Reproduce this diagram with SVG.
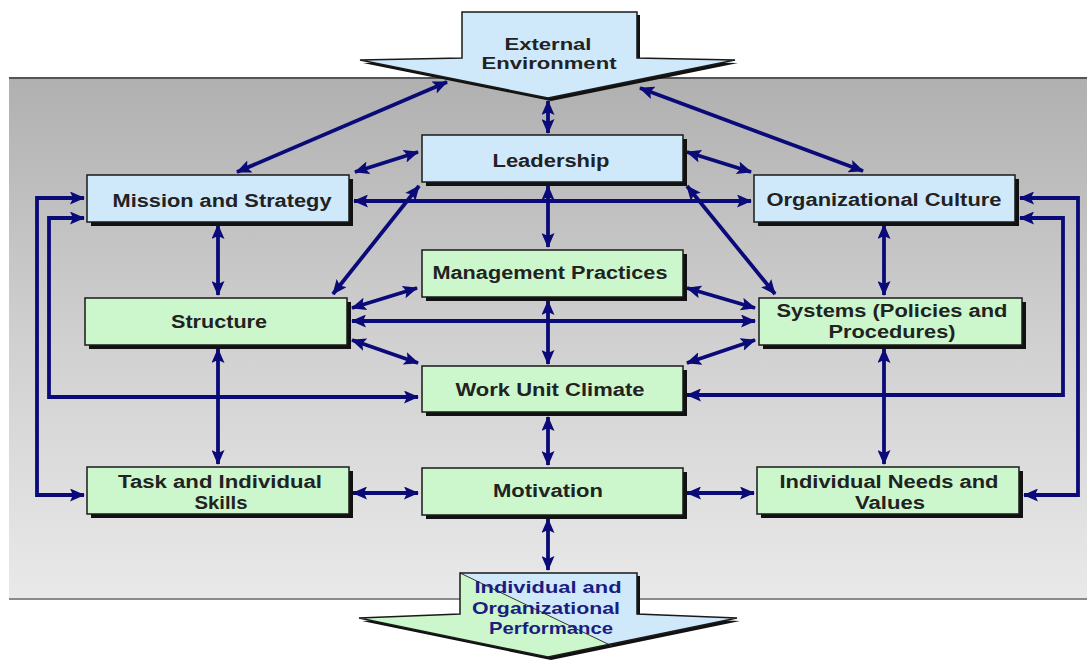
<svg xmlns="http://www.w3.org/2000/svg" width="1087" height="660" viewBox="0 0 1087 660">
<defs>
<linearGradient id="bg" x1="0" y1="0" x2="0" y2="1">
<stop offset="0" stop-color="#b0b0b0"/>
<stop offset="0.5" stop-color="#d0d0d0"/>
<stop offset="1" stop-color="#e9e9e9"/>
</linearGradient>
<marker id="ah" viewBox="0 0 15 13" refX="14" refY="6.5" markerWidth="15" markerHeight="13" markerUnits="userSpaceOnUse" orient="auto-start-reverse">
<path d="M0,0 L15,6.5 L0,13 L3,6.5 z" fill="#0a0a78"/>
</marker>
<clipPath id="perfClip">
<polygon points="460,573 637,573 637,614 737,618 548,657 359,618 460,614"/>
</clipPath>
</defs>
<style>
.box{stroke:#1a1a1a;stroke-width:1.5}
.shadow{fill:#111}
.blue{fill:#cfe9fb}
.green{fill:#ccf7cc}
.t{font-family:"Liberation Sans",Arial,sans-serif;font-weight:bold;font-size:18px;fill:#222;text-anchor:middle}
.tp{font-family:"Liberation Sans",Arial,sans-serif;font-weight:bold;font-size:17px;fill:#1c1c80;text-anchor:middle}
.c{fill:none;stroke:#0a0a78;stroke-width:3.8;marker-start:url(#ah);marker-end:url(#ah)}
</style>
<rect x="0" y="0" width="1087" height="660" fill="#ffffff"/>
<g id="panel">
<rect x="9" y="77" width="1078" height="522" fill="url(#bg)"/>
<line x1="9" y1="78" x2="1087" y2="78" stroke="#555" stroke-width="2"/>
<line x1="9" y1="599" x2="1087" y2="599" stroke="#8a8a8a" stroke-width="2"/>
</g>
<g id="external-environment">
<polygon points="465,15 640,15 640,61 738,63 551,101 363,63 465,61" class="shadow"/>
<polygon points="462,12 637,12 637,58 735,60 548,98 360,60 462,58" class="blue box"/>
<text class="t" x="548" y="50" textLength="87" lengthAdjust="spacingAndGlyphs" style="font-size:17px">External</text>
<text class="t" x="549" y="69" textLength="135" lengthAdjust="spacingAndGlyphs" style="font-size:17px">Environment</text>
</g>
<g id="connectors">
<line class="c" x1="548" y1="101" x2="548" y2="133"/>
<line class="c" x1="447" y1="82" x2="237" y2="172"/>
<line class="c" x1="640" y1="88" x2="863" y2="171"/>
<line class="c" x1="418" y1="152" x2="355" y2="172"/>
<line class="c" x1="687" y1="152" x2="751" y2="172"/>
<line class="c" x1="354" y1="201" x2="751" y2="201"/>
<line class="c" x1="548" y1="186" x2="548" y2="247"/>
<line class="c" x1="419" y1="186" x2="333" y2="294"/>
<line class="c" x1="687" y1="186" x2="775" y2="294"/>
<line class="c" x1="218" y1="225" x2="218" y2="295"/>
<line class="c" x1="884" y1="225" x2="884" y2="295"/>
<line class="c" x1="417" y1="288" x2="352" y2="308"/>
<line class="c" x1="687" y1="288" x2="755" y2="308"/>
<line class="c" x1="352" y1="321" x2="755" y2="321"/>
<line class="c" x1="548" y1="301" x2="548" y2="364"/>
<line class="c" x1="352" y1="340" x2="418" y2="363"/>
<line class="c" x1="755" y1="340" x2="687" y2="363"/>
<line class="c" x1="218" y1="349" x2="218" y2="464"/>
<line class="c" x1="884" y1="349" x2="884" y2="464"/>
<line class="c" x1="548" y1="417" x2="548" y2="465"/>
<line class="c" x1="353" y1="493" x2="418" y2="493"/>
<line class="c" x1="687" y1="493" x2="754" y2="493"/>
<line class="c" x1="548" y1="519" x2="548" y2="570"/>
<path class="c" d="M84,198 H37 V495 H84"/>
<path class="c" d="M84,218 H49 V397 H418"/>
<path class="c" d="M1020,198 H1078 V495 H1024"/>
<path class="c" d="M1020,218 H1063 V395 H687"/>
</g>
<g id="leadership">
<rect x="426" y="139" width="261" height="47" class="shadow"/>
<rect x="422" y="135" width="261" height="47" class="blue box"/>
<text class="t" x="551" y="167" textLength="117" lengthAdjust="spacingAndGlyphs">Leadership</text>
</g>
<g id="mission-and-strategy">
<rect x="91" y="179" width="262" height="47" class="shadow"/>
<rect x="87" y="175" width="262" height="47" class="blue box"/>
<text class="t" x="222" y="207" textLength="219" lengthAdjust="spacingAndGlyphs">Mission and Strategy</text>
</g>
<g id="organizational-culture">
<rect x="758" y="179" width="261" height="47" class="shadow"/>
<rect x="754" y="175" width="261" height="47" class="blue box"/>
<text class="t" x="884" y="206" textLength="235" lengthAdjust="spacingAndGlyphs">Organizational Culture</text>
</g>
<g id="management-practices">
<rect x="426" y="254" width="261" height="47" class="shadow"/>
<rect x="422" y="250" width="261" height="47" class="green box"/>
<text class="t" x="550" y="279" textLength="235" lengthAdjust="spacingAndGlyphs">Management Practices</text>
</g>
<g id="structure">
<rect x="89" y="302" width="262" height="47" class="shadow"/>
<rect x="85" y="298" width="262" height="47" class="green box"/>
<text class="t" x="219" y="328" textLength="96" lengthAdjust="spacingAndGlyphs">Structure</text>
</g>
<g id="systems">
<rect x="763" y="302" width="263" height="47" class="shadow"/>
<rect x="759" y="298" width="263" height="47" class="green box"/>
<text class="t" x="892" y="317" textLength="231" lengthAdjust="spacingAndGlyphs">Systems (Policies and</text>
<text class="t" x="892" y="338" textLength="127" lengthAdjust="spacingAndGlyphs">Procedures)</text>
</g>
<g id="work-unit-climate">
<rect x="426" y="370" width="261" height="46" class="shadow"/>
<rect x="422" y="366" width="261" height="46" class="green box"/>
<text class="t" x="550" y="396" textLength="189" lengthAdjust="spacingAndGlyphs">Work Unit Climate</text>
</g>
<g id="task-and-individual-skills">
<rect x="91" y="471" width="262" height="47" class="shadow"/>
<rect x="87" y="467" width="262" height="47" class="green box"/>
<text class="t" x="220" y="488" textLength="204" lengthAdjust="spacingAndGlyphs">Task and Individual</text>
<text class="t" x="221" y="509" textLength="53" lengthAdjust="spacingAndGlyphs">Skills</text>
</g>
<g id="motivation">
<rect x="426" y="472" width="261" height="47" class="shadow"/>
<rect x="422" y="468" width="261" height="47" class="green box"/>
<text class="t" x="548" y="497" textLength="110" lengthAdjust="spacingAndGlyphs">Motivation</text>
</g>
<g id="individual-needs-and-values">
<rect x="761" y="471" width="262" height="47" class="shadow"/>
<rect x="757" y="467" width="262" height="47" class="green box"/>
<text class="t" x="889" y="488" textLength="219" lengthAdjust="spacingAndGlyphs">Individual Needs and</text>
<text class="t" x="890" y="509" textLength="70" lengthAdjust="spacingAndGlyphs">Values</text>
</g>
<g id="performance">
<polygon points="463,576 640,576 640,617 740,621 551,660 362,621 463,617" class="shadow"/>
<polygon points="460,573 637,573 637,614 737,618 548,657 359,618 460,614" class="blue"/>
<polygon points="460,573 641,660 300,660 300,573" class="green" clip-path="url(#perfClip)"/>
<line x1="460" y1="573" x2="612" y2="646" stroke="#333" stroke-width="1"/>
<polygon points="460,573 637,573 637,614 737,618 548,657 359,618 460,614" fill="none" class="box"/>
<text class="tp" x="548" y="593" textLength="147" lengthAdjust="spacingAndGlyphs">Individual and</text>
<text class="tp" x="546" y="614" textLength="148" lengthAdjust="spacingAndGlyphs">Organizational</text>
<text class="tp" x="551" y="634" textLength="124" lengthAdjust="spacingAndGlyphs">Performance</text>
</g>
</svg>
